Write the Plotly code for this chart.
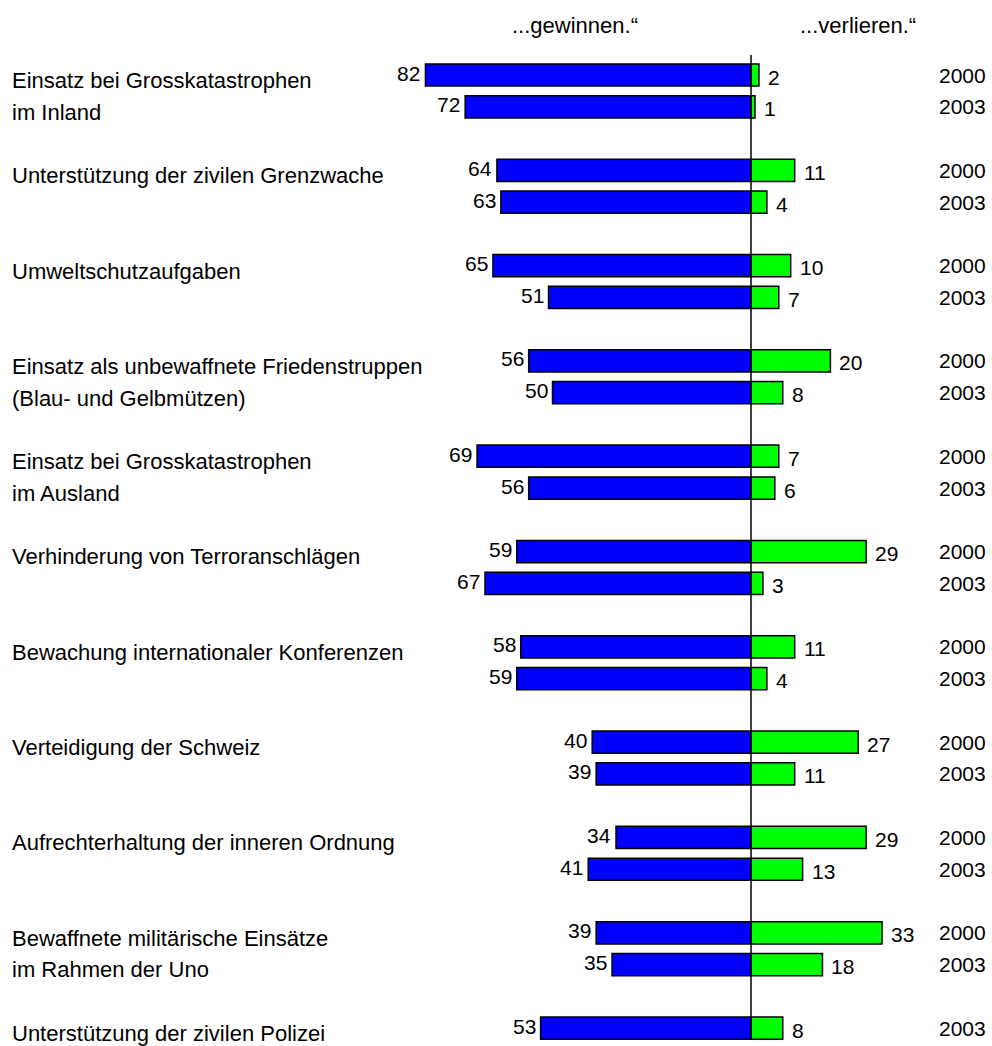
import plotly.graph_objects as go

# ---- data ----
categories = [
    ["Einsatz bei Grosskatastrophen", "im Inland"],
    ["Unterstützung der zivilen Grenzwache"],
    ["Umweltschutzaufgaben"],
    ["Einsatz als unbewaffnete Friedenstruppen", "(Blau- und Gelbmützen)"],
    ["Einsatz bei Grosskatastrophen", "im Ausland"],
    ["Verhinderung von Terroranschlägen"],
    ["Bewachung internationaler Konferenzen"],
    ["Verteidigung der Schweiz"],
    ["Aufrechterhaltung der inneren Ordnung"],
    ["Bewaffnete militärische Einsätze", "im Rahmen der Uno"],
    ["Unterstützung der zivilen Polizei"],
]
years = ["2000", "2003"]
gewinnen_2000 = [82, 64, 65, 56, 69, 59, 58, 40, 34, 39, None]
gewinnen_2003 = [72, 63, 51, 50, 56, 67, 59, 39, 41, 35, 53]
verlieren_2000 = [2, 11, 10, 20, 7, 29, 11, 27, 29, 33, None]
verlieren_2003 = [1, 4, 7, 8, 6, 3, 4, 11, 13, 18, 8]
header_left = "...gewinnen.\u201c"
header_right = "...verlieren.\u201c"

FONT = "Liberation Sans, Arial, sans-serif"
FS = 21
FS_LABEL = 22
BLUE = "#0000FF"
GREEN = "#00FF00"

# build rows
ypos, gw, vl, yr = [], [], [], []
for g in range(len(categories)):
    slot = 0
    for y, gs, vs in zip(years, [gewinnen_2000, gewinnen_2003], [verlieren_2000, verlieren_2003]):
        if gs[g] is None:
            continue
        ypos.append(g * 3 + slot)
        gw.append(gs[g])
        vl.append(vs[g])
        yr.append(y)
        slot += 1

fig = go.Figure()
fig.add_trace(go.Bar(
    y=ypos, x=[-v for v in gw], orientation="h", width=0.7,
    marker=dict(color=BLUE, line=dict(color="black", width=1.5)),
    hoverinfo="skip", showlegend=False,
))
fig.add_trace(go.Bar(
    y=ypos, x=vl, orientation="h", width=0.7,
    marker=dict(color=GREEN, line=dict(color="black", width=1.5)),
    hoverinfo="skip", showlegend=False,
))

ann = []
for p, g, v, y in zip(ypos, gw, vl, yr):
    ann.append(dict(x=-g, y=p, text=str(g), xanchor="right", yanchor="middle",
                    xshift=-3, yshift=2, showarrow=False, font=dict(family=FONT, size=FS, color="black")))
    ann.append(dict(x=v, y=p, text=str(v), xanchor="left", yanchor="middle",
                    xshift=7, yshift=-2, showarrow=False, font=dict(family=FONT, size=FS, color="black")))
    ann.append(dict(x=988 / 992, xref="paper", y=p, text=y, xanchor="right", yanchor="middle",
                    showarrow=False, font=dict(family=FONT, size=FS, color="black")))

for g, lines in enumerate(categories):
    for k, line in enumerate(lines):
        ann.append(dict(x=10 / 992, xref="paper", y=g * 3 + k + 0.17, text=line,
                        xanchor="left", yanchor="middle", showarrow=False,
                        font=dict(family=FONT, size=FS_LABEL, color="black")))

ann.append(dict(x=575 / 992, xref="paper", y=1 - 25 / 1046, yref="paper", text=header_left,
                xanchor="center", yanchor="middle", showarrow=False,
                font=dict(family=FONT, size=FS_LABEL, color="black")))
ann.append(dict(x=858 / 992, xref="paper", y=1 - 25 / 1046, yref="paper", text=header_right,
                xanchor="center", yanchor="middle", showarrow=False,
                font=dict(family=FONT, size=FS_LABEL, color="black")))

unit_x = 3.97
unit_y = 31.77
x_left = -751 / unit_x
x_right = (992 - 751) / unit_x
y_top = -75 / unit_y
y_bot = (1046 - 75) / unit_y

fig.add_shape(type="line", x0=0, x1=0, y0=(55 - 75) / unit_y, y1=(1040 - 75) / unit_y,
              xref="x", yref="y", line=dict(color="black", width=1.5), layer="above")

fig.update_layout(
    width=992, height=1046,
    margin=dict(l=0, r=0, t=0, b=0),
    paper_bgcolor="white", plot_bgcolor="white",
    barmode="overlay",
    xaxis=dict(range=[x_left, x_right], visible=False, fixedrange=True),
    yaxis=dict(range=[y_bot, y_top], visible=False, fixedrange=True),
    annotations=ann,
    font=dict(family=FONT, size=FS, color="black"),
)

fig.write_html("out.html", config={"displayModeBar": False},
               post_script="document.body.style.margin='0';document.body.style.overflow='hidden';")
